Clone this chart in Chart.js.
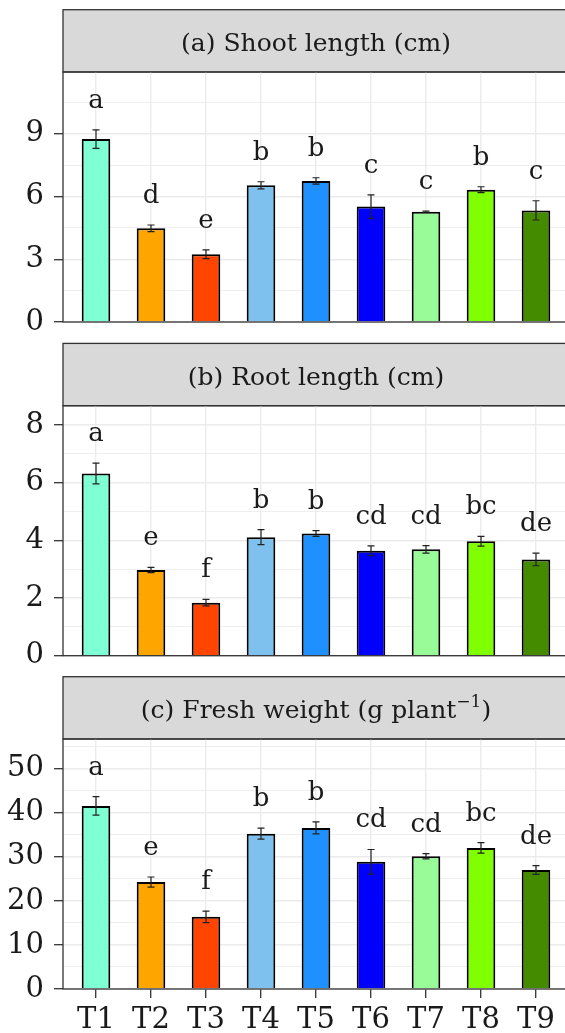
<!DOCTYPE html>
<html><head><meta charset="utf-8">
<script src="https://cdn.jsdelivr.net/npm/chart.js@4.4.1/dist/chart.umd.min.js"></script>
<style>
html,body{margin:0;padding:0;background:#fff;overflow:hidden;width:565px;height:1033px;position:relative;}
.wrap{position:absolute;left:0;}
canvas{display:block;}
</style></head><body>
<div class="wrap" style="top:0px"><canvas id="ca" width="572" height="350"></canvas></div>
<div class="wrap" style="top:335px"><canvas id="cb" width="572" height="349"></canvas></div>
<div class="wrap" style="top:668px"><canvas id="cc" width="572" height="365"></canvas></div>
<script>
// ---- data ----
const categories = ['T1','T2','T3','T4','T5','T6','T7','T8','T9'];
const barColors = ['#7FFFD4','#FFA500','#FF4500','#7EC0EE','#1E90FF','#0000FF','#98FB98','#7FFF00','#458B00'];

const shootMean = [8.75, 4.48, 3.24, 6.54, 6.75, 5.52, 5.28, 6.33, 5.34];
const shootSE   = [0.44, 0.16, 0.21, 0.17, 0.15, 0.56, 0.03, 0.14, 0.46];
const shootLetters = ['a','d','e','b','b','c','c','b','c'];

const rootMean = [6.32, 2.97, 1.84, 4.11, 4.24, 3.64, 3.69, 3.97, 3.34];
const rootSE   = [0.36, 0.09, 0.11, 0.26, 0.10, 0.17, 0.13, 0.17, 0.22];
const rootLetters = ['a','e','f','b','b','cd','cd','bc','de'];

const freshMean = [41.6, 24.3, 16.4, 35.3, 36.6, 28.9, 30.15, 32.05, 27.05];
const freshSE   = [2.1, 1.15, 1.3, 1.25, 1.35, 2.8, 0.6, 1.2, 1.0];
const freshLetters = ['a','e','f','b','b','cd','cd','bc','de'];

const shootTicks = [0,3,6,9];
const shootMinor = [1.5,4.5,7.5,10.5];
const rootTicks = [0,2,4,6,8];
const rootMinor = [1,3,5,7];
const freshTicks = [0,10,20,30,40,50];
const freshMinor = [5,15,25,35,45,55];

const shootTitle = [{t:'(a) Shoot length (cm)'}];
const rootTitle = [{t:'(b) Root length (cm)'}];
const freshTitle = [{t:'(c) Fresh weight (g plant'},{t:'\u22121',sup:true},{t:')'}];

// ---- style ----
const FONT = '"DejaVu Serif", serif';
const TXT = '#1a1a1a';

function makePanel(canvasId, mean, se, letters, majors, minors, yMax, title, padTop, padBottom, showX) {
  const panelPlugin = {
    id: 'panel_' + canvasId,
    beforeDraw(chart) {
      const ctx = chart.ctx, a = chart.chartArea;
      const sh = 62.3;
      ctx.save();
      ctx.fillStyle = '#D9D9D9';
      ctx.fillRect(a.left, a.top - sh, a.right - a.left, sh);
      ctx.strokeStyle = '#333333';
      ctx.lineWidth = 1.3;
      ctx.strokeRect(a.left, a.top - sh, a.right - a.left, sh);
      const mainF = '25px ' + FONT, supF = '17px ' + FONT;
      let total = 0;
      title.forEach(p => { ctx.font = p.sup ? supF : mainF; total += ctx.measureText(p.t).width; });
      let x = (a.left + a.right) / 2 - total / 2;
      const base = a.top - sh + 41.7;
      ctx.fillStyle = TXT;
      ctx.textBaseline = 'alphabetic';
      ctx.textAlign = 'left';
      title.forEach(p => {
        ctx.font = p.sup ? supF : mainF;
        ctx.fillText(p.t, x, p.sup ? base - 11 : base);
        x += ctx.measureText(p.t).width;
      });
      ctx.restore();
    },
    afterDatasetsDraw(chart) {
      const ctx = chart.ctx, a = chart.chartArea;
      const xs = chart.scales.x, ys = chart.scales.y;
      ctx.save();
      ctx.strokeStyle = '#222222';
      ctx.lineWidth = 1.2;
      mean.forEach((m, i) => {
        const px = xs.getPixelForValue(i + 1);
        const top = ys.getPixelForValue(m + se[i]);
        const bot = ys.getPixelForValue(m - se[i]);
        ctx.beginPath();
        ctx.moveTo(px, top); ctx.lineTo(px, bot);
        ctx.moveTo(px - 3.5, top); ctx.lineTo(px + 3.5, top);
        ctx.moveTo(px - 3.5, bot); ctx.lineTo(px + 3.5, bot);
        ctx.stroke();
      });
      ctx.fillStyle = TXT;
      ctx.font = '26px ' + FONT;
      ctx.textAlign = 'center';
      ctx.textBaseline = 'alphabetic';
      mean.forEach((m, i) => {
        const px = xs.getPixelForValue(i + 1);
        const top = ys.getPixelForValue(m + se[i]);
        ctx.fillText(letters[i], px, top - 22);
      });
      ctx.strokeStyle = '#333333';
      ctx.lineWidth = 1.3;
      ctx.strokeRect(a.left, a.top, a.right - a.left, a.bottom - a.top);
      ctx.restore();
    }
  };
  const allY = majors.concat(minors).sort((p, q) => p - q);
  return new Chart(document.getElementById(canvasId), {
    type: 'bar',
    data: {
      datasets: [{
        data: mean.map((v, i) => ({x: i + 1, y: v})),
        backgroundColor: barColors,
        borderColor: '#000000',
        borderWidth: 2,
        barPercentage: 0.52,
        categoryPercentage: 1.0
      }]
    },
    options: {
      responsive: false,
      animation: false,
      events: [],
      layout: {padding: {left: 0, right: 3, top: padTop, bottom: padBottom}},
      plugins: {legend: {display: false}, tooltip: {enabled: false}},
      scales: {
        x: {
          type: 'linear',
          offset: false,
          min: 0.4, max: 9.6,
          afterBuildTicks: ax => { ax.ticks = categories.map((c, i) => ({value: i + 1})); },
          afterFit: ax => { ax.height = showX ? 40 : 0; },
          border: {display: false},
          grid: {offset: false, color: '#EBEBEB', lineWidth: 1.4, drawTicks: showX, tickLength: 9, tickColor: '#333333', tickWidth: 1.3},
          ticks: {
            display: showX,
            autoSkip: false,
            maxRotation: 0,
            padding: 5,
            color: TXT,
            font: {family: FONT, size: 29},
            callback: v => categories[v - 1]
          }
        },
        y: {
          type: 'linear',
          min: 0, max: yMax,
          afterBuildTicks: ax => { ax.ticks = allY.map(v => ({value: v})); },
          afterFit: ax => { ax.width = 63; },
          border: {display: false},
          grid: {
            color: '#EBEBEB',
            lineWidth: c => majors.includes(c.tick.value) ? 1.4 : 0.8,
            drawTicks: true,
            tickLength: 9,
            tickWidth: 1.3,
            tickColor: c => majors.includes(c.tick.value) ? '#333333' : 'rgba(0,0,0,0)'
          },
          ticks: {
            autoSkip: false,
            padding: 10,
            color: TXT,
            font: {family: FONT, size: 29},
            callback: v => majors.includes(v) ? String(v) : ''
          }
        }
      }
    },
    plugins: [panelPlugin]
  });
}

makePanel('ca', shootMean, shootSE, shootLetters, shootTicks, shootMinor, 11.96, shootTitle, 72, 28, false);
makePanel('cb', rootMean, rootSE, rootLetters, rootTicks, rootMinor, 8.67, rootTitle, 70.7, 28.3, false);
makePanel('cc', freshMean, freshSE, freshLetters, freshTicks, freshMinor, 56.8, freshTitle, 71, 4, true);
</script>
</body></html>
